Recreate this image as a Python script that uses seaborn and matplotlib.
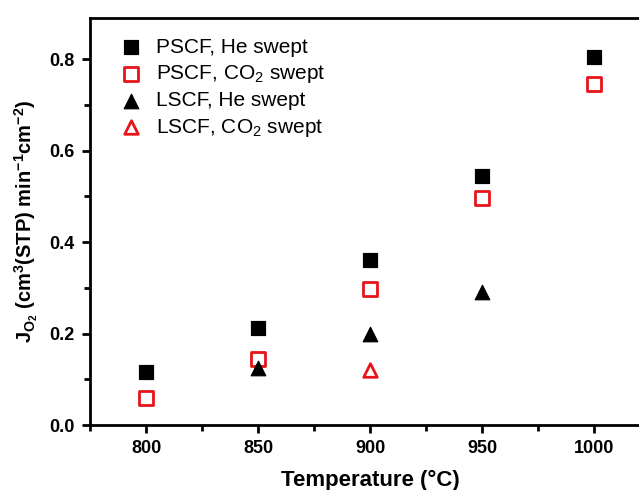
import matplotlib
matplotlib.use("Agg")
import matplotlib.pyplot as plt
from matplotlib.ticker import MultipleLocator
import seaborn as sns
import pandas as pd

# Oxygen permeation flux vs. temperature
temps_pscf = [800, 850, 900, 950, 1000]
pscf_he = [0.116, 0.212, 0.360, 0.545, 0.805]
pscf_co2 = [0.060, 0.145, 0.298, 0.497, 0.745]

temps_lscf_he = [850, 900, 950]
lscf_he = [0.125, 0.200, 0.290]

temps_lscf_co2 = [900]
lscf_co2 = [0.120]

labels = ["PSCF, He swept", "PSCF, CO$_2$ swept",
          "LSCF, He swept", "LSCF, CO$_2$ swept"]
x_ticks = [800, 850, 900, 950, 1000]
y_ticks = [0.0, 0.2, 0.4, 0.6, 0.8]

sns.set_style("ticks")
plt.rcParams["font.family"] = ["Liberation Sans", "DejaVu Sans"]
plt.rcParams["mathtext.default"] = "regular"
plt.rcParams["text.color"] = "black"
plt.rcParams["axes.labelcolor"] = "black"

fig = plt.figure(figsize=(6.39, 4.90), dpi=100)
ax = fig.add_axes([90 / 639, 1 - 425 / 490, 560 / 639, 407 / 490])

red = "#e8141b"
series = [
    (temps_pscf, pscf_he, labels[0], dict(marker="s", color="black", edgecolor="black", s=115)),
    (temps_pscf, pscf_co2, labels[1], dict(marker="s", facecolor="white", edgecolor=red, linewidth=2.0, s=95)),
    (temps_lscf_he, lscf_he, labels[2], dict(marker="^", color="black", edgecolor="black", s=110)),
    (temps_lscf_co2, lscf_co2, labels[3], dict(marker="^", facecolor="white", edgecolor=red, linewidth=2.0, s=95)),
]
for xs, ys, lab, kw in series:
    df = pd.DataFrame({"T": xs, "J": ys})
    sns.scatterplot(data=df, x="T", y="J", ax=ax, label=lab, zorder=3, **kw)

ax.set_xlim(775, 1025)
ax.set_ylim(0, 0.89)
ax.set_xticks(x_ticks)
ax.set_yticks(y_ticks)
ax.xaxis.set_minor_locator(MultipleLocator(25))
ax.yaxis.set_minor_locator(MultipleLocator(0.1))
ax.set_xticklabels([str(t) for t in x_ticks])
ax.set_yticklabels([f"{t:.1f}" for t in y_ticks])

for sp in ax.spines.values():
    sp.set_linewidth(2.0)
    sp.set_color("black")
ax.tick_params(axis="both", which="major", direction="out", length=6, width=2,
               labelsize=13, colors="black", pad=5)
ax.tick_params(axis="both", which="minor", direction="out", length=4, width=2,
               colors="black")
for lbl in ax.get_xticklabels() + ax.get_yticklabels():
    lbl.set_fontweight("bold")

ax.set_xlabel("Temperature (°C)", fontsize=16, fontweight="bold", labelpad=9)
ax.set_ylabel("J$_{O_2}$ (cm$^3$(STP) min$^{-1}$cm$^{-2}$)", fontsize=14.5,
              fontweight="bold", labelpad=7)

leg = ax.legend(loc="upper left", frameon=False, fontsize=15,
                handletextpad=0.2, labelspacing=0.3,
                bbox_to_anchor=(0.0, 1.0), borderaxespad=0.55)

fig.savefig("out.png", dpi=100)
